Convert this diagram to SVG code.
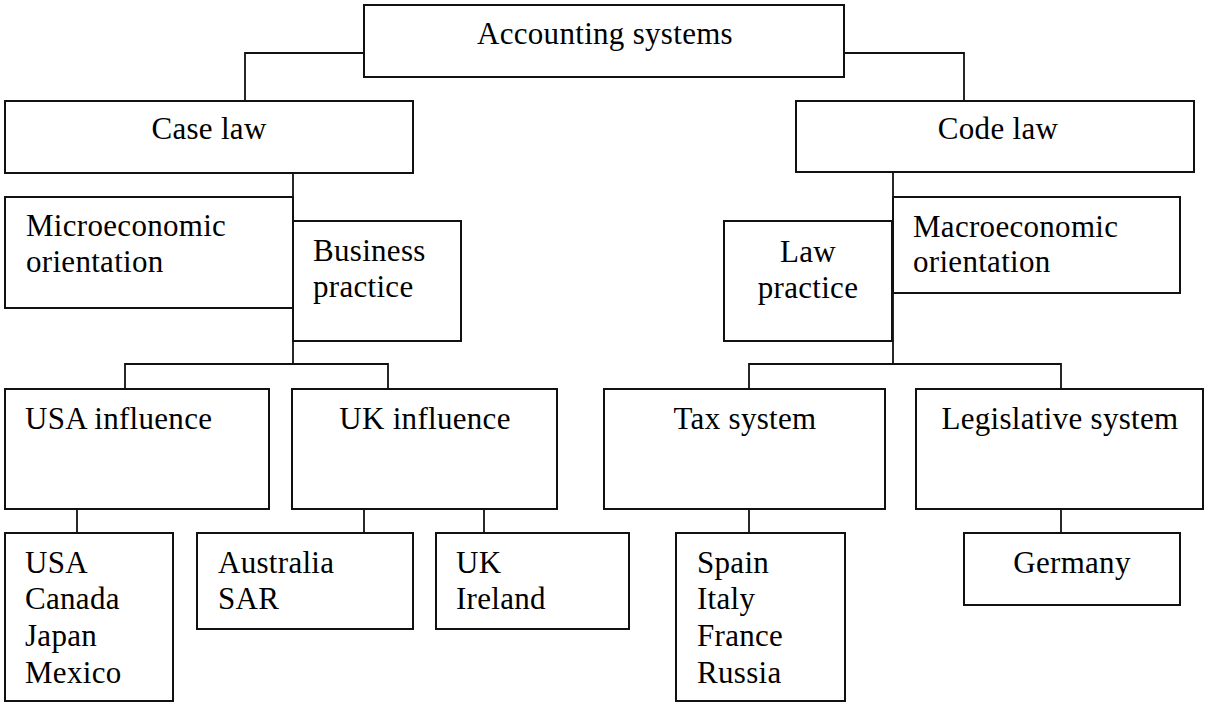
<svg xmlns="http://www.w3.org/2000/svg" width="1205" height="702" viewBox="0 0 1205 702">
  <style>
    .box { fill: #fff; stroke: #111; stroke-width: 2; }
    .link { fill: none; stroke: #111; stroke-width: 1.8; }
    text { font-family: "Liberation Serif", "Times New Roman", serif; font-size: 31px; letter-spacing: 0.3px; fill: #000; }
    .c { text-anchor: middle; }
  </style>
  <rect width="1205" height="702" fill="#fff"/>

  <!-- connectors -->
  <g id="connectors" class="link">
    <path d="M364 53 H245 V101"/>
    <path d="M844 53 H964 V101"/>
    <path d="M293 173 V364"/>
    <path d="M893 172 V364"/>
    <path d="M125 389 V364 H388 V389"/>
    <path d="M749 389 V364 H1061 V389"/>
    <path d="M77 509 V533"/>
    <path d="M364 509 V533"/>
    <path d="M484 509 V533"/>
    <path d="M749 509 V533"/>
    <path d="M1061 509 V533"/>
  </g>

  <g id="accounting-systems">
    <rect class="box" x="364" y="5" width="480" height="72"/>
    <text class="c" x="605" y="44">Accounting systems</text>
  </g>

  <g id="case-law">
    <rect class="box" x="5" y="101" width="408" height="72"/>
    <text class="c" x="209" y="139">Case law</text>
  </g>

  <g id="code-law">
    <rect class="box" x="796" y="101" width="398" height="71"/>
    <text class="c" x="998" y="139">Code law</text>
  </g>

  <g id="microeconomic">
    <rect class="box" x="5" y="197" width="288" height="111"/>
    <text x="26" y="236">Microeconomic</text>
    <text x="26" y="272">orientation</text>
  </g>

  <g id="business-practice">
    <rect class="box" x="293" y="221" width="168" height="120"/>
    <text x="313" y="261">Business</text>
    <text x="313" y="297">practice</text>
  </g>

  <g id="law-practice">
    <rect class="box" x="724" y="221" width="168" height="120"/>
    <text class="c" x="808" y="262">Law</text>
    <text class="c" x="808" y="298">practice</text>
  </g>

  <g id="macroeconomic">
    <rect class="box" x="893" y="197" width="287" height="96"/>
    <text x="913" y="237">Macroeconomic</text>
    <text x="913" y="272">orientation</text>
  </g>

  <g id="usa-influence">
    <rect class="box" x="5" y="389" width="264" height="120"/>
    <text x="25" y="429">USA influence</text>
  </g>

  <g id="uk-influence">
    <rect class="box" x="292" y="389" width="265" height="120"/>
    <text class="c" x="425" y="429">UK influence</text>
  </g>

  <g id="tax-system">
    <rect class="box" x="604" y="389" width="281" height="120"/>
    <text class="c" x="745" y="429">Tax system</text>
  </g>

  <g id="legislative-system">
    <rect class="box" x="916" y="389" width="287" height="120"/>
    <text class="c" x="1060" y="429">Legislative system</text>
  </g>

  <g id="usa-countries">
    <rect class="box" x="5" y="533" width="168" height="168"/>
    <text x="25" y="573">USA</text>
    <text x="25" y="609">Canada</text>
    <text x="25" y="646">Japan</text>
    <text x="25" y="683">Mexico</text>
  </g>

  <g id="australia-sar">
    <rect class="box" x="197" y="533" width="216" height="96"/>
    <text x="218" y="573">Australia</text>
    <text x="218" y="609">SAR</text>
  </g>

  <g id="uk-ireland">
    <rect class="box" x="436" y="533" width="193" height="96"/>
    <text x="456" y="573">UK</text>
    <text x="456" y="609">Ireland</text>
  </g>

  <g id="tax-countries">
    <rect class="box" x="676" y="533" width="169" height="168"/>
    <text x="697" y="573">Spain</text>
    <text x="697" y="609">Italy</text>
    <text x="697" y="646">France</text>
    <text x="697" y="683">Russia</text>
  </g>

  <g id="germany">
    <rect class="box" x="964" y="533" width="216" height="72"/>
    <text class="c" x="1072" y="573">Germany</text>
  </g>
</svg>
